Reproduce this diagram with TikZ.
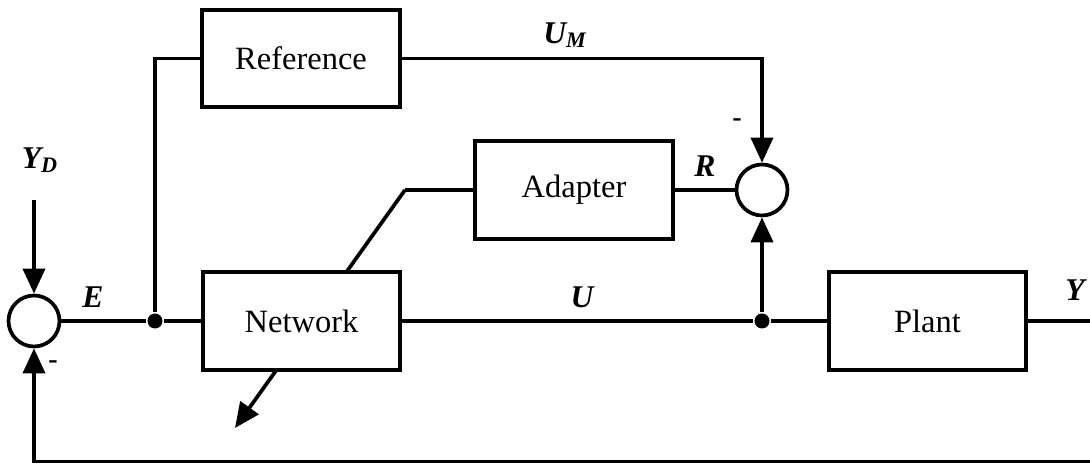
\documentclass[tikz,border=0pt]{standalone}
\usepackage{fontspec}
\setmainfont{Liberation Serif}
\usetikzlibrary{arrows.meta}

\begin{document}
\begin{tikzpicture}[line width=2.1pt, >={Triangle[length=0.5cm,width=0.44cm]},
    block/.style={draw, fill=white, minimum width=3.95cm, minimum height=1.95cm,
                  font=\fontsize{18.5}{21}\selectfont},
    sumj/.style={draw, circle, fill=white, minimum size=1.02cm, inner sep=0pt},
    dot/.style={circle, fill, inner sep=0pt, minimum size=0.3cm},
    sig/.style={font=\fontsize{18}{20}\selectfont\bfseries\itshape},
    sgn/.style={font=\fontsize{16}{18}\selectfont\bfseries}]

  \useasboundingbox (0,0) rectangle (21.8,9.3);

  %% Summing junctions and taps
  \node[sumj] (s1) at (0.68,2.88) {};
  \node[sumj] (s2) at (15.24,5.5) {};
  \node[dot]  (j1) at (3.1,2.88) {};
  \node[dot]  (j2) at (15.24,2.88) {};

  %% Blocks
  \node[block] (ref)   at (6.02,8.13) {Reference};
  \node[block] (adapt) at (11.48,5.5) {Adapter};
  \node[block] (plant) at (18.55,2.88) {Plant};

  %% Adaptation path through the network (drawn before the box covers it)
  \coordinate (bend) at (8.1,5.5);
  \coordinate (tip)  at (4.7,0.74);
  \draw (adapt.west) -- (bend);
  \draw[->] (bend) -- (tip);
  \node[block] (net) at (6.03,2.88) {Network};

  %% Input and output ends
  \coordinate (yd)   at (0.68,5.3);
  \coordinate (yout) at (21.8,2.88);
  \coordinate (fb)   at (21.8,0.07);

  %% Forward path
  \draw (s1) -- (j1) -- (net);
  \draw (net) -- (j2) -- (plant) -- (yout);
  \draw[->] (yd) -- (s1);

  %% Reference model branch
  \draw (j1) |- (ref.west);
  \draw[->] (ref.east) -| (s2);
  \draw[->] (j2) -- (s2);
  \draw (adapt) -- (s2);

  %% Feedback
  \draw[->] (fb) -| (s1);

  %% Signal labels
  \node[sig] at (0.8,6.1)   {Y\textsubscript{D}};
  \node[sig] at (1.86,3.36) {E};
  \node[sig] at (11.3,8.6)  {U\textsubscript{M}};
  \node[sig] at (14.1,5.98) {R};
  \node[sig] at (11.64,3.36){U};
  \node[sig] at (21.5,3.5)  {Y};
  \node[sgn] at (14.74,6.84){-};
  \node[sgn] at (1.06,2.0)  {-};
\end{tikzpicture}
\end{document}
